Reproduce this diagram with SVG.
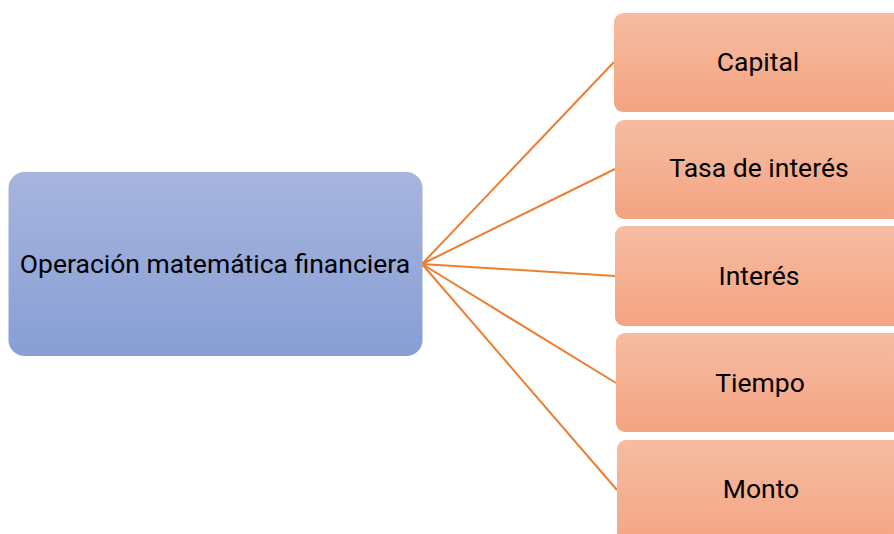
<svg xmlns="http://www.w3.org/2000/svg" width="894" height="534" viewBox="0 0 894 534">
<defs>
<linearGradient id="gb" x1="0" y1="0" x2="0" y2="1"><stop offset="0" stop-color="#A7B5DE"/><stop offset="1" stop-color="#879ED5"/></linearGradient>
<linearGradient id="go" x1="0" y1="0" x2="0" y2="1"><stop offset="0" stop-color="#F6BCA2"/><stop offset="1" stop-color="#F4A481"/></linearGradient>
<style>
.t{font-family:Roboto,"Liberation Sans",sans-serif;font-size:26.5px;fill:#000;text-anchor:middle}
.c{stroke:#ED7D31;stroke-width:2;fill:none}
.o{fill:url(#go)}
</style>
</defs>
<rect width="894" height="534" fill="#fff"/>
<g id="connectors">
<line class="c" x1="422" y1="264" x2="614" y2="62"/>
<line class="c" x1="422" y1="264" x2="615" y2="169"/>
<line class="c" x1="422" y1="264" x2="615" y2="276"/>
<line class="c" x1="422" y1="264" x2="616" y2="383"/>
<line class="c" x1="422" y1="264" x2="617" y2="490"/>
</g>
<g id="main"><rect x="8.5" y="172" width="414" height="184" rx="16" fill="url(#gb)"/><text class="t" x="215" y="273">Operación matemática financiera</text></g>
<g id="capital"><rect class="o" x="614" y="13" width="290" height="99" rx="9"/><text class="t" x="758" y="71">Capital</text></g>
<g id="tasa"><rect class="o" x="615" y="120" width="290" height="99" rx="9"/><text class="t" x="759" y="177">Tasa de interés</text></g>
<g id="interes"><rect class="o" x="615" y="226" width="290" height="100" rx="9"/><text class="t" x="759" y="285">Interés</text></g>
<g id="tiempo"><rect class="o" x="616" y="333" width="290" height="99" rx="9"/><text class="t" x="760" y="392">Tiempo</text></g>
<g id="monto"><rect class="o" x="617" y="440" width="290" height="110" rx="9"/><text class="t" x="761" y="498">Monto</text></g>
</svg>
